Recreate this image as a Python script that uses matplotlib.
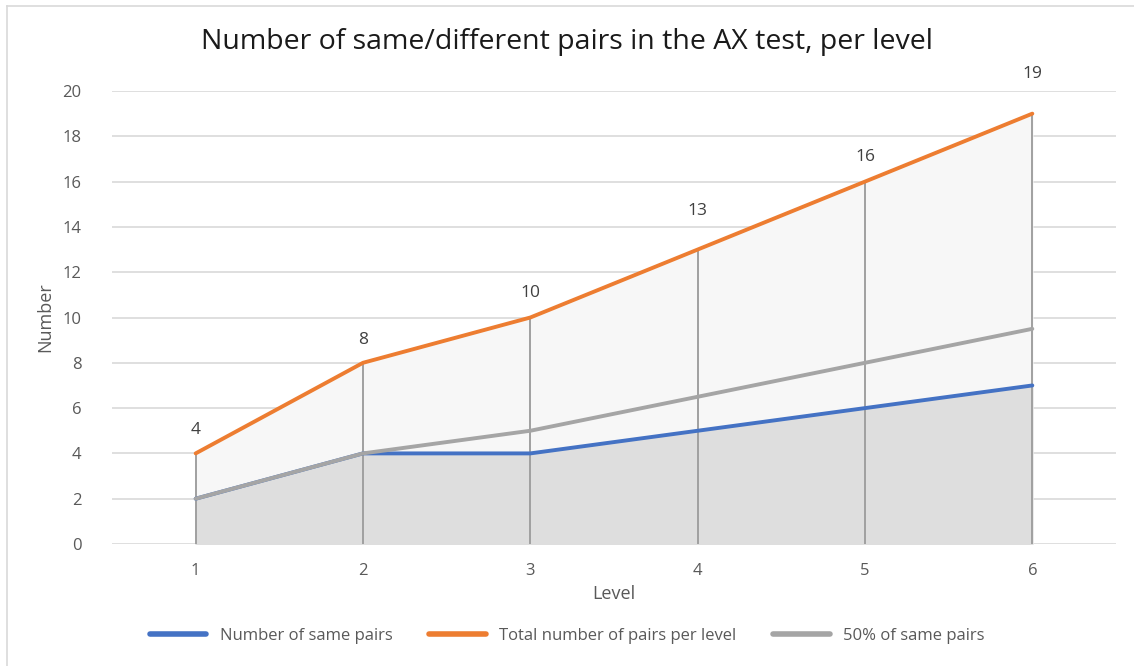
import numpy as np
import matplotlib.pyplot as plt
from matplotlib.lines import Line2D

plt.rcParams["font.family"] = ["Open Sans", "DejaVu Sans"]

levels = ["1", "2", "3", "4", "5", "6"]
same_pairs = [2, 4, 4, 5, 6, 7]
total_pairs = [4, 8, 10, 13, 16, 19]
half_same = [2, 4, 5, 6.5, 8, 9.5]

BLUE = "#4472C4"
ORANGE = "#ED7D31"
GRAY = "#A5A5A5"
TXT = "#595959"

# label offsets above the orange points (points), as placed in the original
label_dy = [11, 11, 12, 22, 12, 23]

fig = plt.figure(figsize=(11.34, 6.66), dpi=100)
fig.patch.set_facecolor("white")
ax = fig.add_axes([112 / 1134, 1 - 544 / 666, (1116 - 112) / 1134, (544 - 91) / 666])

x = np.arange(len(levels))

# filled areas (total under orange, darker under blue)
ax.fill_between(x, 0, total_pairs, color="#F7F7F7", zorder=1)
ax.fill_between(x, 0, same_pairs, color="#DEDEDE", zorder=2)

# drop lines
ax.vlines(x, 0, total_pairs, color="#A0A0A0", linewidth=1.4, zorder=3)

ax.plot(x, same_pairs, color=BLUE, linewidth=2.8, zorder=4, solid_capstyle="round")
ax.plot(x, total_pairs, color=ORANGE, linewidth=2.8, zorder=5, solid_capstyle="round")
ax.plot(x, half_same, color=GRAY, linewidth=2.8, zorder=6, solid_capstyle="round")

for xi, v, dy in zip(x, total_pairs, label_dy):
    ax.annotate(str(v), (xi, v), xytext=(0, dy), textcoords="offset points",
                ha="center", va="bottom", fontsize=12.5, color="#404040")

ax.set_xlim(-0.5, len(levels) - 0.5)
ax.set_ylim(0, 20)
ax.set_yticks(range(0, 21, 2))
ax.set_xticks(x)
ax.set_xticklabels(levels)
ax.grid(axis="y", color="#D9D9D9", linewidth=1.2, zorder=0)
ax.set_axisbelow(True)
for s in ax.spines.values():
    s.set_visible(False)
ax.tick_params(length=0, labelsize=12, labelcolor=TXT)
ax.tick_params(axis="x", pad=14)
ax.tick_params(axis="y", pad=22)

ax.set_xlabel("Level", fontsize=13, color=TXT, labelpad=4)
ax.set_ylabel("Number", fontsize=13, color=TXT, labelpad=6)
fig.text(0.5, 1 - 42 / 666, "Number of same/different pairs in the AX test, per level",
         ha="center", va="center", fontsize=20.5, color="#1a1a1a")

handles = [Line2D([0], [0], color=c, linewidth=4, solid_capstyle="round") for c in (BLUE, ORANGE, GRAY)]
fig.legend(handles, ["Number of same pairs", "Total number of pairs per level", "50% of same pairs"],
           loc="center", bbox_to_anchor=(0.5, 1 - 636 / 666), ncol=3, frameon=False,
           fontsize=12, labelcolor=TXT, handlelength=3.4, columnspacing=2.2, handletextpad=0.8)

# border at left and top edge
fig.add_artist(Line2D([7 / 1134, 7 / 1134], [0, 1 - 6 / 666], color="#D9D9D9", linewidth=1.2))
fig.add_artist(Line2D([7 / 1134, 1], [1 - 6 / 666, 1 - 6 / 666], color="#D9D9D9", linewidth=1.2))

fig.savefig("out.png", dpi=100, facecolor="white")
